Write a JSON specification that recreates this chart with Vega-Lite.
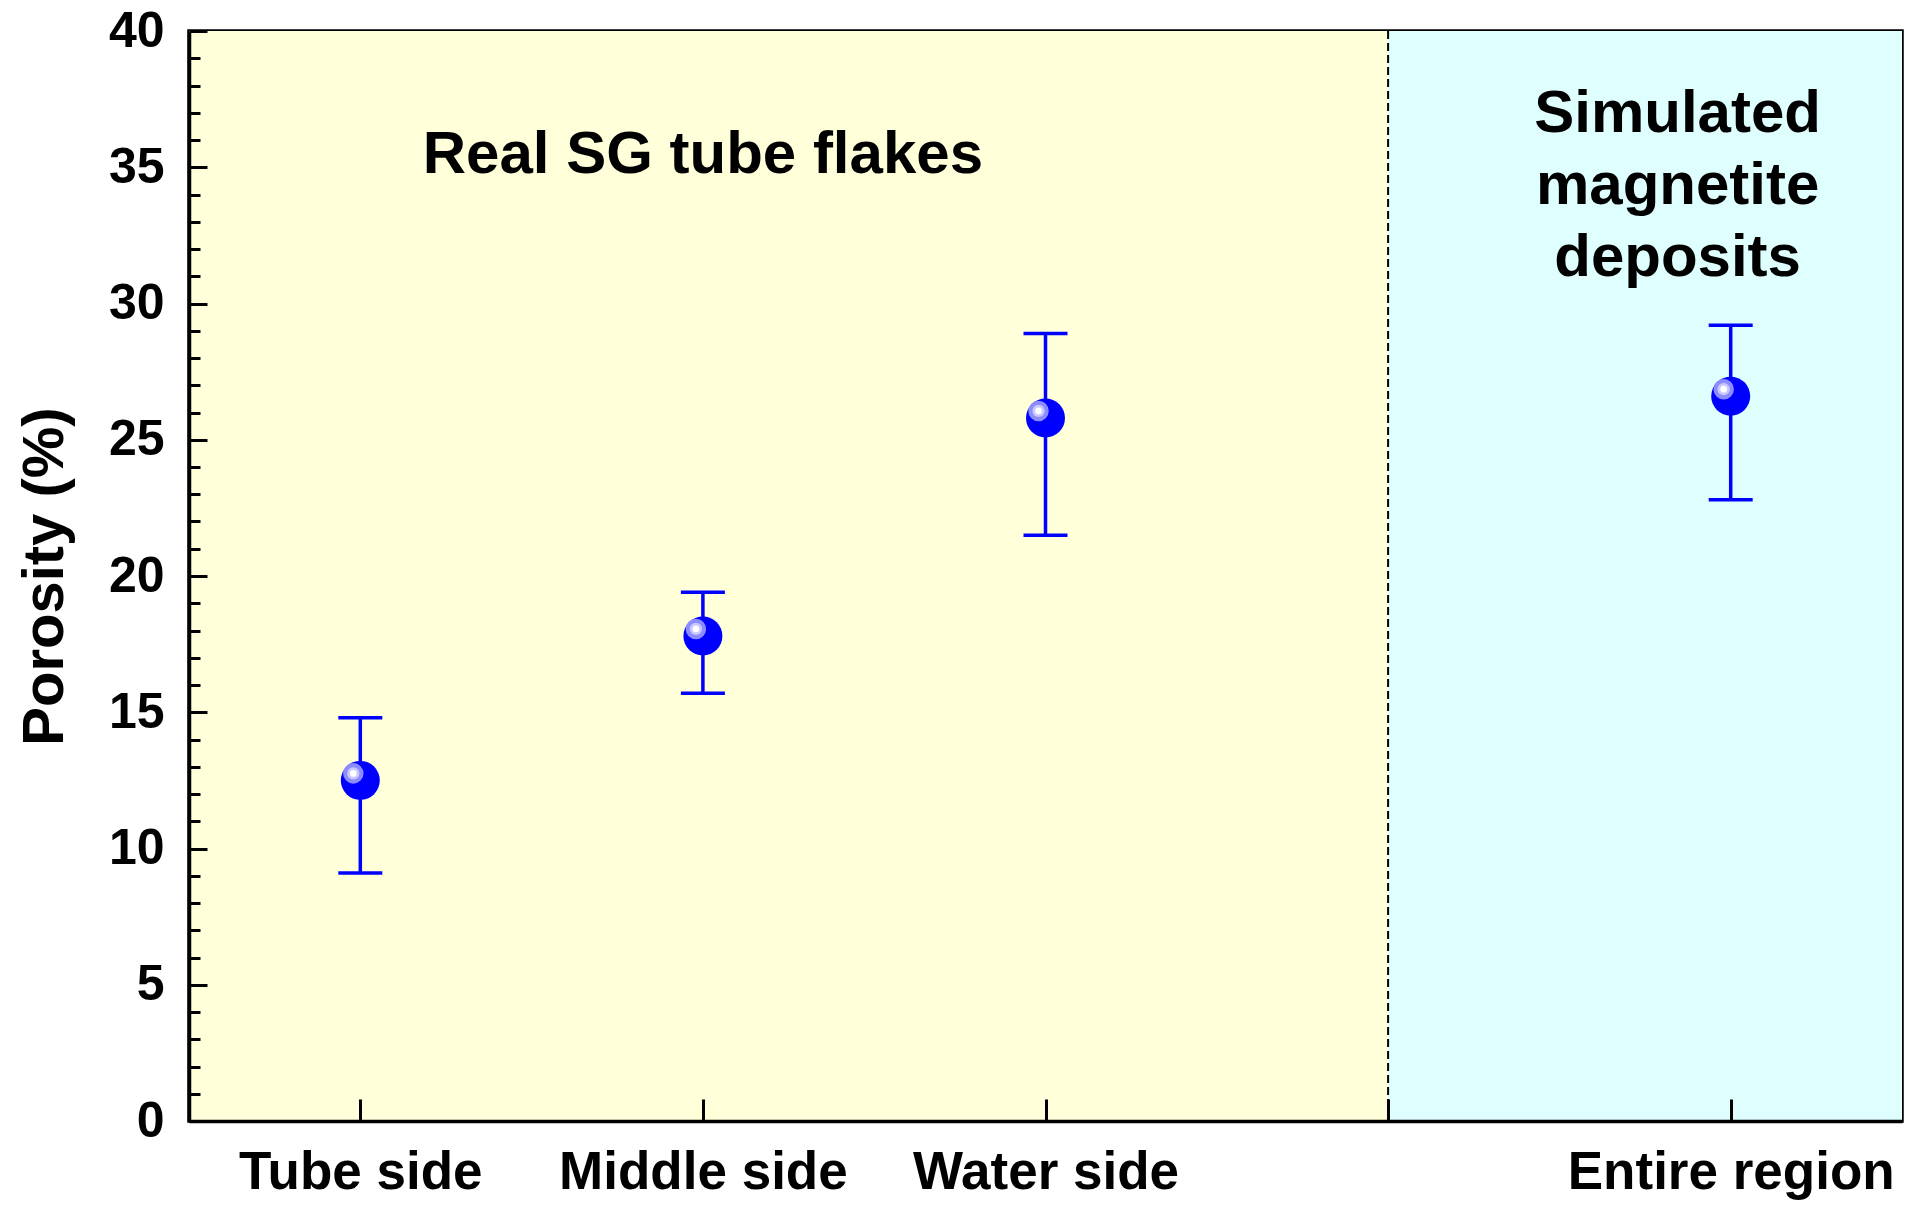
{
  "$schema": "https://vega.github.io/schema/vega-lite/v6.json",
  "width": 1713,
  "height": 1090,
  "autosize": "none",
  "padding": {"left": 189, "top": 31, "right": 14, "bottom": 93},
  "background": "white",
  "config": {
    "view": {"stroke": "black", "strokeWidth": 3.5},
    "axis": {
      "grid": false,
      "domainColor": "black",
      "domainWidth": 3.5,
      "tickColor": "black",
      "tickWidth": 3,
      "labelFont": "Liberation Sans",
      "labelFontWeight": "bold",
      "labelFontSize": 50,
      "labelColor": "black",
      "labelLimit": 0,
      "labelOverlap": false,
      "titleFont": "Liberation Sans",
      "titleFontWeight": "bold",
      "titleColor": "black"
    },
    "text": {"font": "Liberation Sans"}
  },
  "datasets": {
    "points": [
      {"category": "Tube side", "pos": 1, "porosity": 12.5, "lo": 9.1, "hi": 14.8},
      {"category": "Middle side", "pos": 2, "porosity": 17.8, "lo": 15.7, "hi": 19.4},
      {"category": "Water side", "pos": 3, "porosity": 25.8, "lo": 21.5, "hi": 28.9},
      {"category": "Entire region", "pos": 5, "porosity": 26.6, "lo": 22.8, "hi": 29.2}
    ],
    "regions": [
      {"group": "Real SG tube flakes", "start": 0.5, "end": 4},
      {"group": "Simulated magnetite deposits", "start": 4, "end": 5.5}
    ],
    "divider": [{"pos": 4}],
    "notes": [
      {"text": ["Real SG tube flakes"], "x": 2.0, "y": 35.45},
      {"text": ["Simulated", "magnetite", "deposits"], "x": 4.845, "y": 36.95}
    ]
  },
  "layer": [
    {
      "data": {"name": "regions"},
      "mark": {"type": "rect"},
      "encoding": {
        "x": {"field": "start", "type": "quantitative", "scale": {"domain": [0.5, 5.5], "nice": false, "zero": false}},
        "x2": {"field": "end"},
        "y": {"datum": 0, "type": "quantitative", "scale": {"domain": [0, 40], "nice": false}},
        "y2": {"datum": 40},
        "color": {
          "field": "group", "type": "nominal",
          "scale": {"domain": ["Real SG tube flakes", "Simulated magnetite deposits"], "range": ["#FFFFDA", "#DFFEFE"]},
          "legend": null
        }
      }
    },
    {
      "data": {"name": "divider"},
      "mark": {"type": "rule", "color": "black", "strokeWidth": 2, "strokeDash": [8, 4]},
      "encoding": {"x": {"field": "pos", "type": "quantitative"}}
    },
    {
      "data": {"name": "points"},
      "mark": {"type": "rule", "color": "#0000FF", "strokeWidth": 3.5},
      "encoding": {
        "x": {"field": "pos", "type": "quantitative"},
        "y": {"field": "lo", "type": "quantitative"},
        "y2": {"field": "hi"}
      }
    },
    {
      "data": {"name": "points"},
      "mark": {"type": "tick", "orient": "horizontal", "color": "#0000FF", "size": 44, "thickness": 3.5, "opacity": 1},
      "encoding": {
        "x": {"field": "pos", "type": "quantitative"},
        "y": {"field": "lo", "type": "quantitative"}
      }
    },
    {
      "data": {"name": "points"},
      "mark": {"type": "tick", "orient": "horizontal", "color": "#0000FF", "size": 44, "thickness": 3.5, "opacity": 1},
      "encoding": {
        "x": {"field": "pos", "type": "quantitative"},
        "y": {"field": "hi", "type": "quantitative"}
      }
    },
    {
      "data": {"name": "points"},
      "mark": {"type": "circle", "color": "#0000FF", "opacity": 1, "size": 1520},
      "encoding": {
        "x": {
          "field": "pos", "type": "quantitative",
          "axis": {
            "title": null,
            "zindex": 1,
            "values": [1, 2, 3, 4, 5],
            "tickCount": 10,
            "tickSize": -22,
            "labelFontSize": 53,
            "labelPadding": 47,
            "labelExpr": "datum.value == 1 ? 'Tube side' : datum.value == 2 ? 'Middle side' : datum.value == 3 ? 'Water side' : datum.value == 5 ? 'Entire region' : ''"
          }
        },
        "y": {
          "field": "porosity", "type": "quantitative",
          "axis": {
            "title": "Porosity (%)",
            "zindex": 1,
            "titleFontSize": 58,
            "titlePadding": 34,
            "tickCount": 60,
            "format": "d",
            "values": [0,1,2,3,4,5,6,7,8,9,10,11,12,13,14,15,16,17,18,19,20,21,22,23,24,25,26,27,28,29,30,31,32,33,34,35,36,37,38,39,40],
            "tickSize": {"condition": {"test": "datum.value % 5 === 0", "value": -18}, "value": -11},
            "labelPadding": 43,
            "labelExpr": "datum.value % 5 === 0 ? datum.label : ''"
          }
        }
      }
    },
    {
      "data": {"name": "points"},
      "mark": {"type": "circle", "color": "#8C8CFF", "opacity": 1, "size": 420, "xOffset": -7, "yOffset": -7},
      "encoding": {
        "x": {"field": "pos", "type": "quantitative"},
        "y": {"field": "porosity", "type": "quantitative"}
      }
    },
    {
      "data": {"name": "points"},
      "mark": {"type": "circle", "color": "#C8C8FF", "opacity": 1, "size": 150, "xOffset": -7, "yOffset": -7},
      "encoding": {
        "x": {"field": "pos", "type": "quantitative"},
        "y": {"field": "porosity", "type": "quantitative"}
      }
    },
    {
      "data": {"name": "points"},
      "mark": {"type": "circle", "color": "#FFFFFF", "opacity": 1, "size": 45, "xOffset": -7, "yOffset": -7},
      "encoding": {
        "x": {"field": "pos", "type": "quantitative"},
        "y": {"field": "porosity", "type": "quantitative"}
      }
    },
    {
      "data": {"name": "notes"},
      "mark": {"type": "text", "fontSize": 60, "fontWeight": "bold", "color": "black", "align": "center", "baseline": "middle", "lineHeight": 72},
      "encoding": {
        "x": {"field": "x", "type": "quantitative"},
        "y": {"field": "y", "type": "quantitative"},
        "text": {"field": "text"}
      }
    }
  ]
}
